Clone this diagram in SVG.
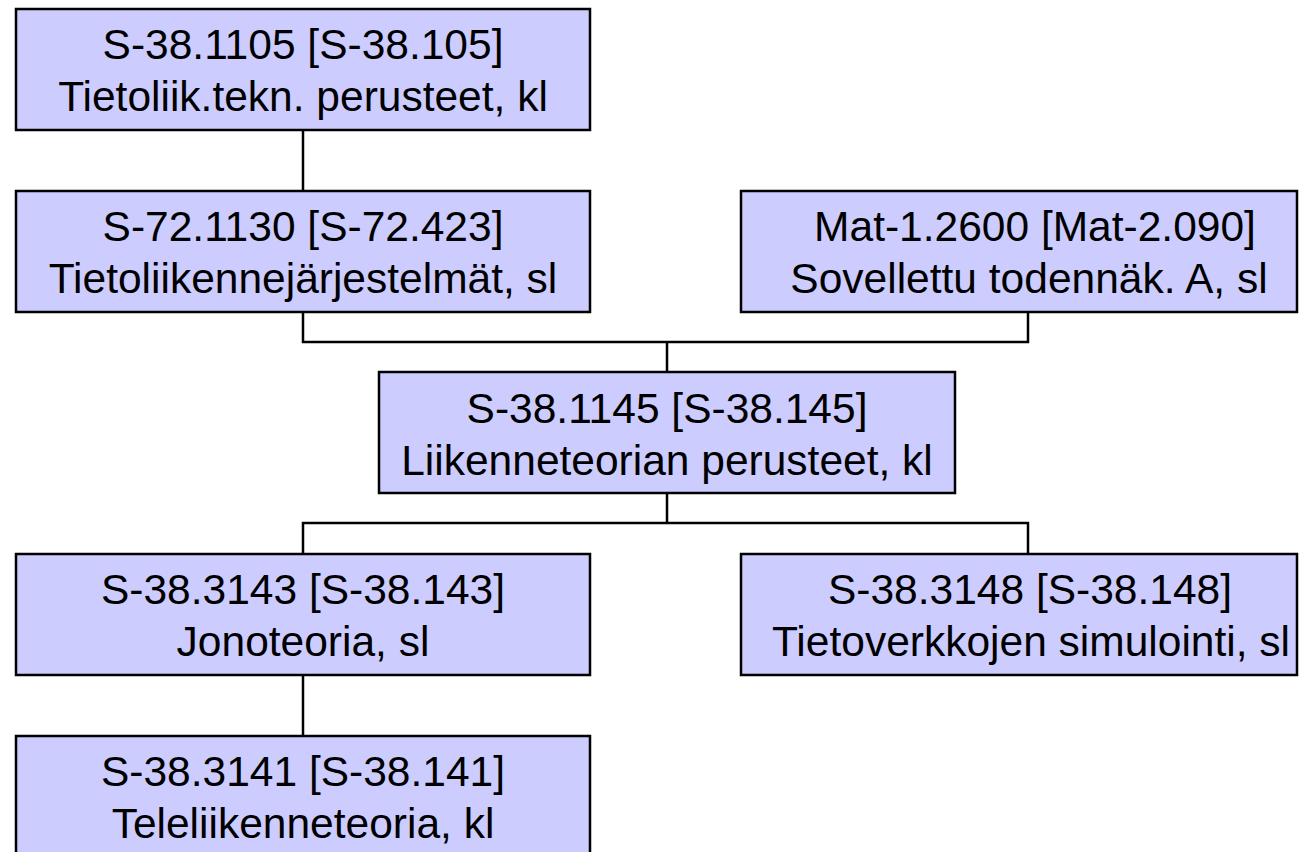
<svg xmlns="http://www.w3.org/2000/svg" width="1299" height="852" viewBox="0 0 1299 852">
<style>
.box{fill:#ccccff;stroke:#000;stroke-width:2.5}
.t{font-family:"Liberation Sans",Arial,sans-serif;font-size:42.5px;fill:#000;text-anchor:middle}
.c{fill:none;stroke:#000;stroke-width:2.5}
</style>
<rect width="1299" height="852" fill="#fff"/>
<g id="connectors">
<path class="c" d="M303 130V191"/>
<path class="c" d="M303 312V342H1028V312M667 342V372"/>
<path class="c" d="M667 493V523H303V554M667 523H1028V554"/>
<path class="c" d="M303 675V736"/>
</g>
<g id="n1"><rect class="box" x="16" y="9" width="574" height="121"/><text class="t" x="303" y="59">S-38.1105 [S-38.105]</text><text class="t" x="303" y="111">Tietoliik.tekn. perusteet, kl</text></g>
<g id="n2"><rect class="box" x="16" y="191" width="574" height="121"/><text class="t" x="303" y="241">S-72.1130 [S-72.423]</text><text class="t" x="303" y="293">Tietoliikennejärjestelmät, sl</text></g>
<g id="n3"><rect class="box" x="741" y="191" width="556" height="121"/><text class="t" x="1035" y="241">Mat-1.2600 [Mat-2.090]</text><text class="t" x="1029" y="293">Sovellettu todennäk. A, sl</text></g>
<g id="n4"><rect class="box" x="379" y="372" width="576" height="121"/><text class="t" x="667" y="423">S-38.1145 [S-38.145]</text><text class="t" x="667" y="475">Liikenneteorian perusteet, kl</text></g>
<g id="n5"><rect class="box" x="16" y="554" width="574" height="121"/><text class="t" x="303" y="604">S-38.3143 [S-38.143]</text><text class="t" x="303" y="656">Jonoteoria, sl</text></g>
<g id="n6"><rect class="box" x="741" y="554" width="556" height="121"/><text class="t" x="1030" y="604">S-38.3148 [S-38.148]</text><text class="t" x="1031" y="656">Tietoverkkojen simulointi, sl</text></g>
<g id="n7"><rect class="box" x="16" y="736" width="574" height="130"/><text class="t" x="303" y="786">S-38.3141 [S-38.141]</text><text class="t" x="303" y="838">Teleliikenneteoria, kl</text></g>
</svg>
